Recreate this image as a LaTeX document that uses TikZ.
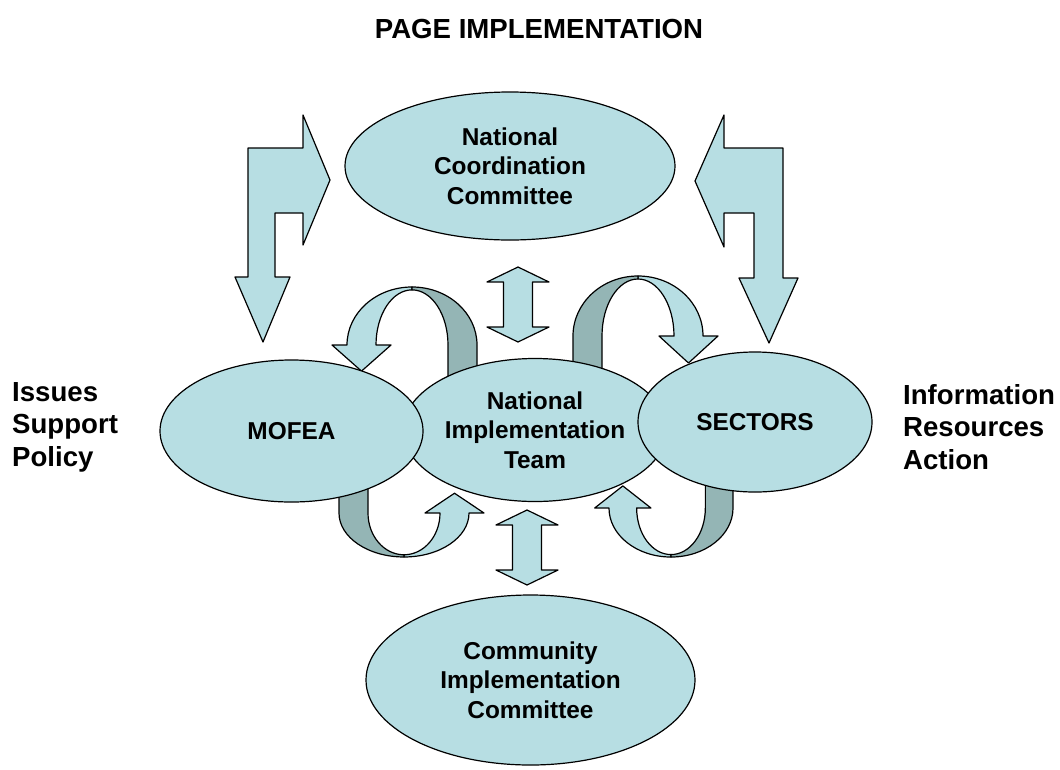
\documentclass[tikz,border=0pt]{standalone}
\usepackage{fontspec}
\setmainfont{Liberation Sans}
\usetikzlibrary{shapes.geometric}
\definecolor{pale}{RGB}{183,222,227}
\definecolor{shade}{RGB}{148,181,181}
\tikzset{blob/.style={ellipse,draw,fill=pale,line width=1.2pt,align=center,inner sep=0pt,
font=\bfseries\fontsize{24.4}{29.5}\selectfont},
bigtxt/.style={align=left,inner sep=0pt,font=\bfseries\fontsize{27.6}{32.5}\selectfont},
ribbonfront/.style={draw,fill=pale,line width=1.2pt,line join=round},
ribbonback/.style={draw,fill=shade,line width=1.2pt,line join=round}}
\newcommand{\Ribbon}[3]{
\begin{scope}[shift={#1},xscale=#2,yscale=#3]
\filldraw[ribbonfront] (0,60) arc[start angle=90,end angle=180,x radius=65,y radius=60]
  -- (-80,0) -- (-50.5,-27) -- (-21,0) -- (-36,0)
  arc[start angle=180,end angle=90,x radius=36,y radius=57] -- cycle;
\filldraw[ribbonback] (0,60) arc[start angle=90,end angle=0,x radius=65,y radius=60]
  -- (65,-40) -- (36,-40) -- (36,0)
  arc[start angle=0,end angle=90,x radius=36,y radius=57] -- cycle;
\end{scope}
}
\newcommand{\UpDown}[3]{\filldraw[ribbonfront] (#1,-#2) -- ({#1+31},{-#2-15}) -- ({#1+14.5},{-#2-15})
  -- ({#1+14.5},{-#3+15}) -- ({#1+31},{-#3+15}) -- (#1,-#3) -- ({#1-31},{-#3+15})
  -- ({#1-14.5},{-#3+15}) -- ({#1-14.5},{-#2-15}) -- ({#1-31},{-#2-15}) -- cycle;
}

\begin{document}
\begin{tikzpicture}[x=1pt,y=1pt]
    \useasboundingbox (0,0) rectangle (1060,-769);
    % curved arrows
    \Ribbon{(412,-345)}{1}{0.967}
    \Ribbon{(638,-336)}{-1}{1}
    \Ribbon{(404,-513)}{-1}{-0.733}
    \Ribbon{(671,-508)}{0.954}{-0.817}
    % bent arrows
    \filldraw[ribbonfront] (248,-148) -- (303,-148) -- (303,-115) -- (330,-180) -- (303,-245)
      -- (303,-213) -- (275,-213) -- (275,-277) -- (290,-277) -- (263,-342) -- (235,-277)
      -- (248,-277) -- cycle;
    \filldraw[ribbonfront] (783,-148) -- (724,-148) -- (724,-115) -- (695,-181) -- (724,-247)
      -- (724,-213) -- (754,-213) -- (754,-278) -- (739,-278) -- (769,-343) -- (798,-278)
      -- (783,-278) -- cycle;
    % up and down
    \UpDown{518}{267}{342}
    \UpDown{527}{510}{585}
    % bodies
    \node[blob,minimum width=330pt,minimum height=148pt] (ncc) at (510,-166) {National\\Coordination\\Committee};
    \node[blob,minimum width=264pt,minimum height=143pt] (nit) at (535,-430) {National\\Implementation\\Team};
    \node[blob,minimum width=263pt,minimum height=142pt] (mofea) at (291.5,-431) {MOFEA};
    \node[blob,minimum width=234pt,minimum height=140pt] (sectors) at (755,-422) {SECTORS};
    \node[blob,minimum width=329pt,minimum height=170pt] (cic) at (530.5,-680) {Community\\Implementation\\Committee};
    % texts
    \node[bigtxt] (title) at (539,-29) {PAGE IMPLEMENTATION};
    \node[bigtxt,anchor=west] (left-txt) at (12,-427) {Issues\\Support\\Policy};
    \node[bigtxt,anchor=west] (right-txt) at (903,-427) {Information\\Resources\\Action};
\end{tikzpicture}
\end{document}
